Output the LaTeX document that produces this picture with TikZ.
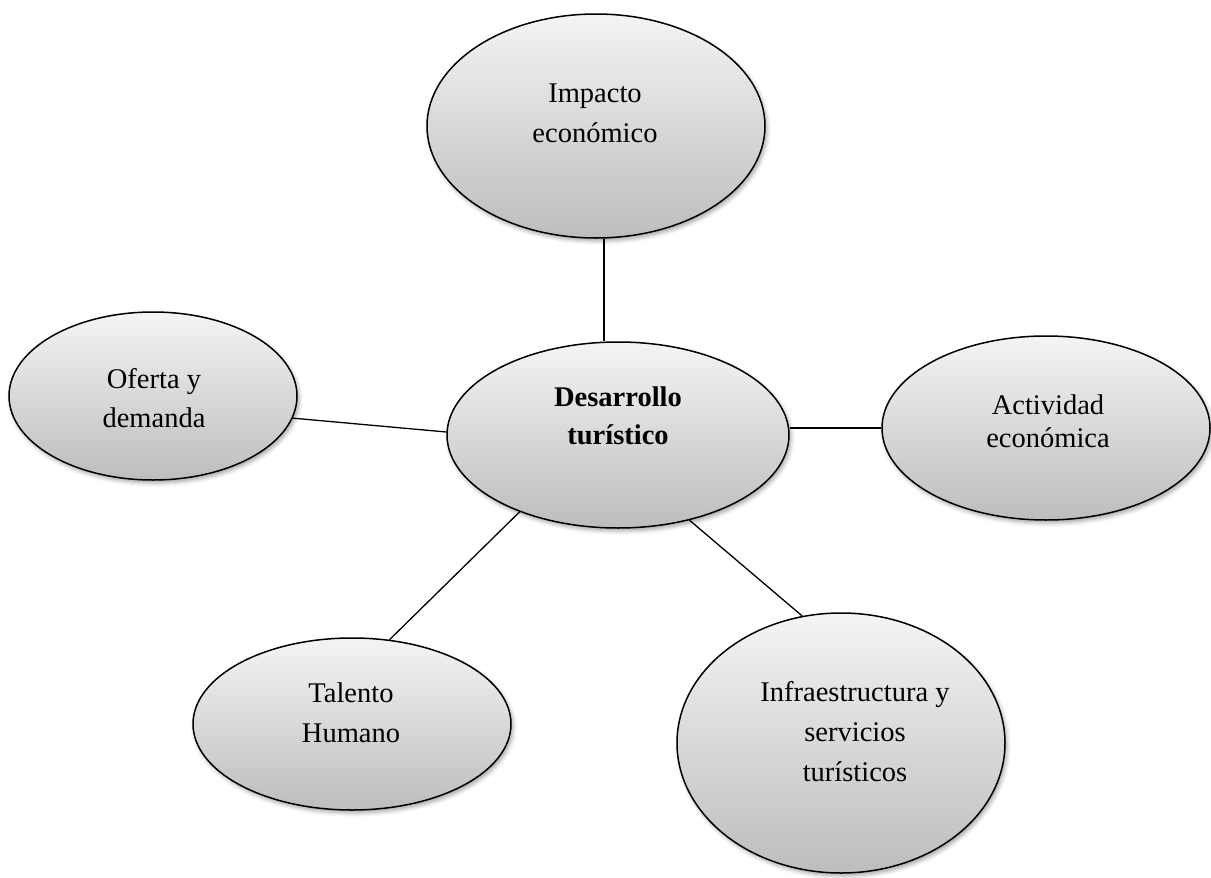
\documentclass[tikz,border=0pt]{standalone}
\usepackage{fontspec}
\setmainfont{Liberation Serif}
\usetikzlibrary{shapes.geometric,shadows.blur}
\definecolor{bubbletop}{HTML}{F4F4F4}
\definecolor{bubblebot}{HTML}{BDBDBD}
\begin{document}
\begin{tikzpicture}[x=1pt,y=-1pt,
  bubble/.style={ellipse, draw=black, line width=1.5pt, inner sep=0pt,
    top color=bubbletop, bottom color=bubblebot,
    blur shadow={shadow xshift=2pt, shadow yshift=-3pt,
      shadow blur radius=4pt, shadow opacity=35}},
  lbl/.style={align=center, anchor=base, inner sep=0pt},
  link/.style={draw=black, line width=1.3pt}]
\useasboundingbox (0,0) rectangle (1211,878);

% ellipses
\node[bubble, minimum width=338pt, minimum height=224pt] (imp) at (596,126) {};
\node[bubble, minimum width=342pt, minimum height=186pt] (ctr) at (618,435) {};
\node[bubble, minimum width=288pt, minimum height=168pt] (ofe) at (153,396) {};
\node[bubble, minimum width=328pt, minimum height=184pt] (act) at (1046,428) {};
\node[bubble, minimum width=318pt, minimum height=172pt] (tal) at (352,724) {};
\node[bubble, minimum width=328pt, minimum height=260pt] (inf) at (841,743) {};

% labels (positioned by the baseline of their last line)
\node[lbl, font=\fontsize{28.5}{40}\selectfont] (timp) at (595,142) {Impacto\\económico};
\node[lbl, font=\fontsize{28.5}{38}\selectfont\bfseries] (tctr) at (618,444) {Desarrollo\\turístico};
\node[lbl, font=\fontsize{28.5}{39}\selectfont] (tofe) at (154,427) {Oferta y\\demanda};
\node[lbl, font=\fontsize{28.5}{33}\selectfont] (tact) at (1048,447) {Actividad\\económica};
\node[lbl, font=\fontsize{28.5}{40}\selectfont] (ttal) at (351,742) {Talento\\Humano};
\node[lbl, font=\fontsize{28.5}{40}\selectfont] (tinf) at (855,781) {Infraestructura y\\servicios\\turísticos};

% connectors from the centre bubble
\path[link] (imp.-86) -- (imp.-86 |- ctr.north);
\path[link] (ofe.-9) -- (ctr.179);
\path[link] (act.west) -- (act.west -| ctr.east);
\path[link] (tal.66) -- (ctr.-142);
\path[link] (inf.107) -- (ctr.-50);
\end{tikzpicture}
\end{document}
